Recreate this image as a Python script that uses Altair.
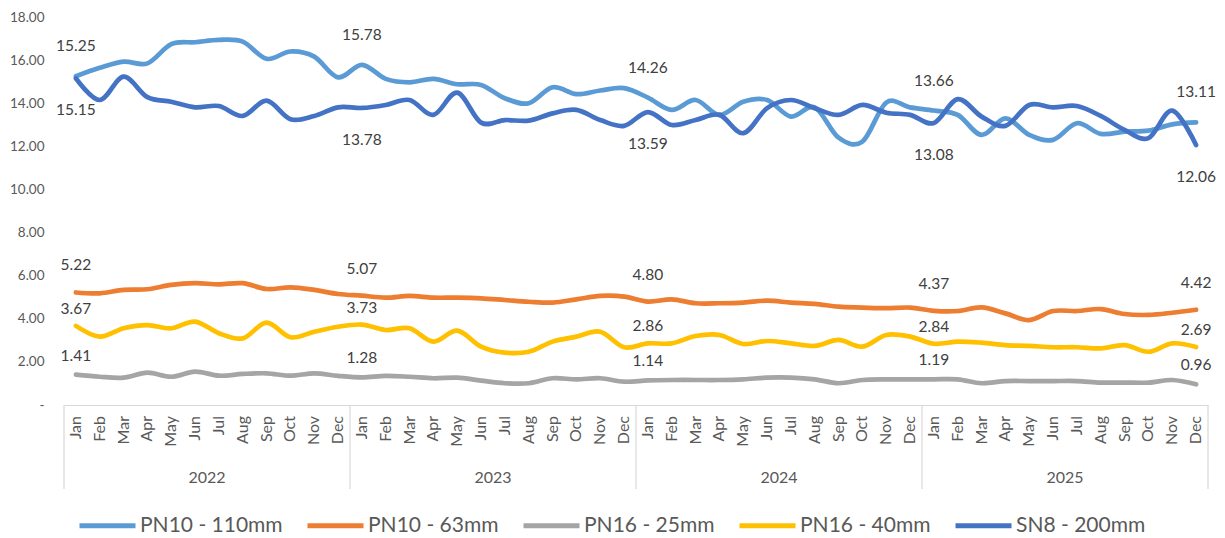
import altair as alt
import pandas as pd

months = ["Jan", "Feb", "Mar", "Apr", "May", "Jun", "Jul", "Aug", "Sep", "Oct", "Nov", "Dec"]
years = ["2022", "2023", "2024", "2025"]
series = ["PN10 - 110mm", "PN10 - 63mm", "PN16 - 25mm", "PN16 - 40mm", "SN8 - 200mm"]
colors = ["#5B9BD5", "#ED7D31", "#A5A5A5", "#FFC000", "#4472C4"]

pn10_110 = [15.25, 15.64, 15.93, 15.85, 16.74, 16.83, 16.94, 16.86, 16.06, 16.40, 16.16, 15.20,
            15.78, 15.13, 14.97, 15.13, 14.88, 14.85, 14.23, 14.00, 14.74, 14.42, 14.59, 14.70,
            14.26, 13.69, 14.15, 13.46, 14.07, 14.15, 13.38, 13.81, 12.40, 12.22, 14.03, 13.81,
            13.66, 13.46, 12.53, 13.30, 12.53, 12.30, 13.07, 12.58, 12.68, 12.73, 13.02, 13.11]
pn10_63 = [5.22, 5.18, 5.34, 5.37, 5.57, 5.65, 5.60, 5.65, 5.38, 5.46, 5.34, 5.15,
           5.07, 4.98, 5.06, 4.98, 4.98, 4.95, 4.87, 4.79, 4.75, 4.90, 5.06, 5.03,
           4.80, 4.90, 4.72, 4.72, 4.75, 4.84, 4.75, 4.69, 4.56, 4.52, 4.49, 4.52,
           4.37, 4.36, 4.53, 4.25, 3.94, 4.36, 4.36, 4.45, 4.22, 4.18, 4.28, 4.42]
pn16_25 = [1.41, 1.31, 1.27, 1.50, 1.31, 1.55, 1.36, 1.44, 1.47, 1.36, 1.47, 1.35,
           1.28, 1.35, 1.31, 1.24, 1.27, 1.13, 1.01, 1.01, 1.24, 1.19, 1.24, 1.08,
           1.14, 1.16, 1.16, 1.16, 1.19, 1.27, 1.27, 1.19, 1.01, 1.16, 1.19, 1.19,
           1.19, 1.19, 1.01, 1.11, 1.11, 1.11, 1.11, 1.04, 1.04, 1.04, 1.16, 0.96]
pn16_40 = [3.67, 3.17, 3.56, 3.71, 3.56, 3.87, 3.33, 3.09, 3.82, 3.14, 3.40, 3.63,
           3.73, 3.48, 3.56, 2.94, 3.45, 2.71, 2.43, 2.47, 2.94, 3.17, 3.40, 2.68,
           2.86, 2.86, 3.20, 3.25, 2.83, 2.97, 2.86, 2.74, 3.02, 2.71, 3.25, 3.17,
           2.84, 2.94, 2.89, 2.78, 2.74, 2.68, 2.68, 2.63, 2.78, 2.47, 2.86, 2.69]
sn8_200 = [15.15, 14.15, 15.23, 14.28, 14.07, 13.81, 13.87, 13.41, 14.12, 13.26, 13.41, 13.81,
           13.78, 13.92, 14.15, 13.46, 14.49, 13.10, 13.22, 13.19, 13.53, 13.69, 13.22, 12.95,
           13.59, 12.99, 13.22, 13.46, 12.61, 13.77, 14.15, 13.77, 13.46, 13.92, 13.56, 13.46,
           13.08, 14.19, 13.38, 12.95, 13.92, 13.81, 13.87, 13.41, 12.76, 12.38, 13.66, 12.06]

values_by_series = [pn10_110, pn10_63, pn16_25, pn16_40, sn8_200]
n = len(months) * len(years)

rows = []
for s, vals in zip(series, values_by_series):
    for i, v in enumerate(vals):
        rows.append({"idx": i, "series": s, "value": v,
                     "labelled": (i % 12 == 0) or (i == n - 1)})
df = pd.DataFrame(rows)

month_df = pd.DataFrame({"idx": list(range(n)), "month": months * len(years)})
year_df = pd.DataFrame({"year": years, "center": [k * 12 + 5.5 for k in range(len(years))]})
sep_df = pd.DataFrame({"b": [k * 12 - 0.5 for k in range(len(years) + 1)]})

FONT = "Lato"
AXIS_GRAY = "#595959"
LINE_GRAY = "#D9D9D9"

x_scale = alt.Scale(domain=[-0.5, n - 0.5], nice=False, zero=False)
y_scale = alt.Scale(domain=[0, 18], nice=False)

lines = alt.Chart(df).mark_line(
    interpolate="cardinal", strokeWidth=4.7, strokeCap="round", strokeJoin="round"
).encode(
    x=alt.X("idx:Q", scale=x_scale, title=None,
            axis=alt.Axis(labels=False, ticks=False, grid=False,
                          domainColor=LINE_GRAY, domainWidth=1.2)),
    y=alt.Y("value:Q", scale=y_scale, title=None,
            axis=alt.Axis(values=list(range(0, 19, 2)),
                          labelExpr="datum.value == 0 ? '-\u00a0\u00a0' : format(datum.value, '.2f')",
                          labelFont=FONT, labelFontSize=13.5, labelColor=AXIS_GRAY,
                          labelPadding=20, ticks=False, domain=False, grid=False)),
    color=alt.Color("series:N", sort=series,
                    scale=alt.Scale(domain=series, range=colors),
                    legend=alt.Legend(title=None, orient="none", legendX=13, legendY=478,
                                      direction="horizontal", symbolType="stroke",
                                      symbolSize=3136, symbolStrokeWidth=5,
                                      labelFont=FONT, labelFontSize=21, labelColor=AXIS_GRAY,
                                      labelOffset=2, columnPadding=14, labelLimit=0, padding=0)),
    order=alt.Order("idx:Q"),
)

offsets = {"PN10 - 110mm": -30, "PN10 - 63mm": -27, "PN16 - 25mm": -19,
           "PN16 - 40mm": -17, "SN8 - 200mm": 32}

label_layers = []
for s in series:
    label_layers.append(
        alt.Chart(df).transform_filter(
            (alt.datum.series == s) & (alt.datum.labelled == True)
        ).mark_text(font=FONT, fontSize=15.5, color="#404040", dy=offsets[s],
                    baseline="middle", align="center").encode(
            x=alt.X("idx:Q", scale=x_scale),
            y=alt.Y("value:Q", scale=y_scale),
            text=alt.Text("value:Q", format=".2f"),
        )
    )

month_text = alt.Chart(month_df).mark_text(
    font=FONT, fontSize=16, color=AXIS_GRAY, angle=270, align="right", baseline="middle"
).encode(
    x=alt.X("idx:Q", scale=x_scale),
    y=alt.value(399),
    text="month:N",
)

year_text = alt.Chart(year_df).mark_text(
    font=FONT, fontSize=16, color=AXIS_GRAY, baseline="middle"
).encode(
    x=alt.X("center:Q", scale=x_scale),
    y=alt.value(461),
    text="year:N",
)

seps = alt.Chart(sep_df).mark_rule(color=LINE_GRAY, strokeWidth=1.2).encode(
    x=alt.X("b:Q", scale=x_scale),
    y=alt.value(388),
    y2=alt.value(472),
)

chart = alt.layer(lines, seps, *label_layers, month_text, year_text).properties(
    width=1144, height=388,
    autosize=alt.AutoSizeParams(type="none"),
    padding={"left": 56, "top": 9, "right": 9, "bottom": 133},
    background="white",
).configure_view(stroke=None)

chart.save("out.html", embed_options={"renderer": "svg", "actions": False})
